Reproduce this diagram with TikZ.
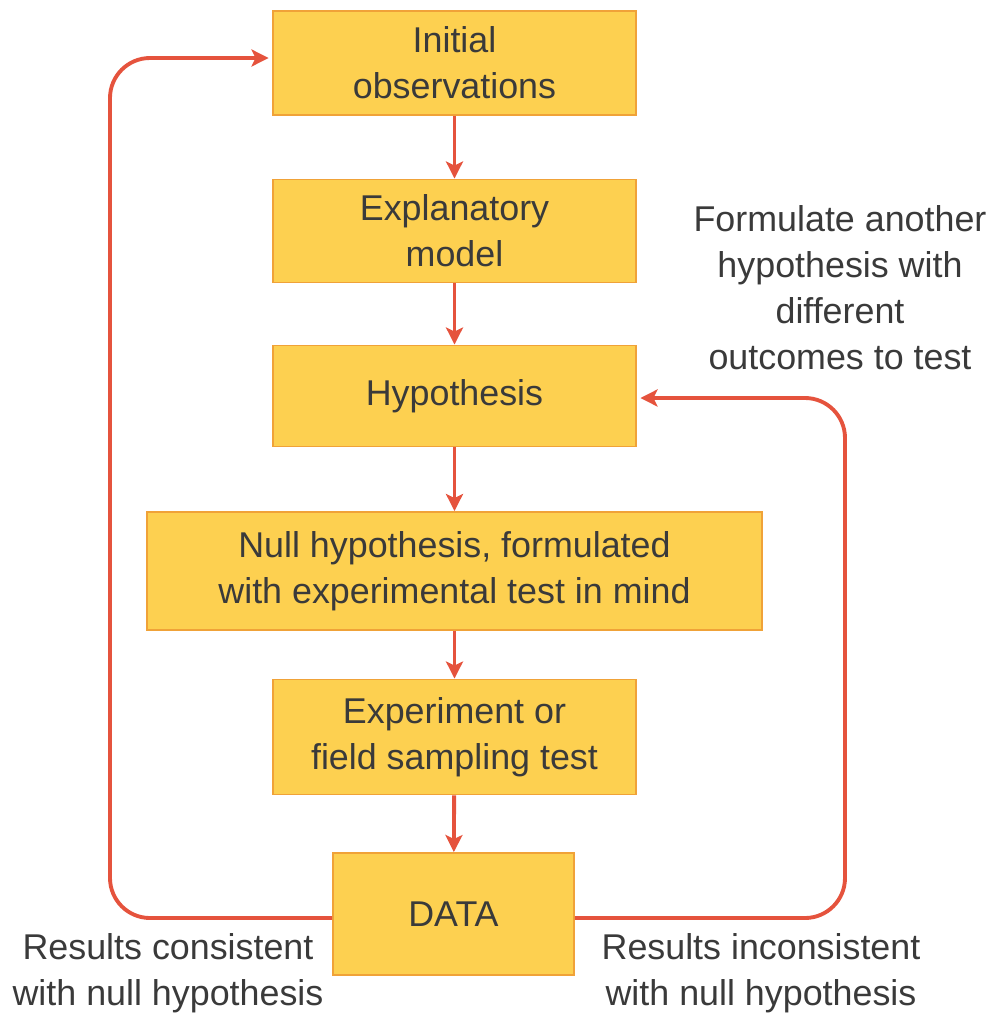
\documentclass[tikz,border=0pt]{standalone}
\usepackage{fontspec}
\setmainfont{Liberation Sans}
\usepackage{xcolor}
\usetikzlibrary{arrows.meta, positioning, calc}

\definecolor{boxfill}{HTML}{FDD050}
\definecolor{boxline}{HTML}{F0A238}
\definecolor{loopred}{HTML}{E5533D}
\definecolor{txtgray}{HTML}{3A3A3A}

\tikzset{
  stage/.style={draw=boxline, fill=boxfill, line width=1.1pt, align=center,
    text=txtgray, inner sep=0pt},
  note/.style={align=center, text=txtgray},
  flow/.style={draw=loopred, line width=2.2pt,
    -{Stealth[length=0.34cm, width=0.34cm, inset=0.08cm]}},
  loop/.style={flow, rounded corners=0.8cm}
}

\begin{document}
\begin{tikzpicture}[x=0.02cm, y=-0.02cm,
    every node/.style={font=\fontsize{20.4pt}{26.2pt}\selectfont}]
  \useasboundingbox (0,0) rectangle (996,1018);

  % Stages
  \node[stage, minimum width=7.26cm, minimum height=2.08cm] (obs) at (454.5,63) {Initial\\observations};
  \node[stage, minimum width=7.26cm, minimum height=2.06cm] (model) at (454.5,231) {Explanatory\\model};
  \node[stage, minimum width=7.26cm, minimum height=2.02cm] (hyp) at (454.5,396) {Hypothesis};
  \node[stage, minimum width=12.3cm, minimum height=2.36cm] (null) at (454.5,571) {Null hypothesis, formulated\\with experimental test in mind};
  \node[stage, minimum width=7.26cm, minimum height=2.3cm] (exper) at (454.5,737) {Experiment or\\field sampling test};
  \node[stage, minimum width=4.82cm, minimum height=2.44cm] (data) at (453.5,914) {DATA};

  % Straight arrows
  \draw[flow] (obs) -- (model);
  \draw[flow] (model) -- (hyp);
  \draw[flow] (hyp) -- (null);
  \draw[flow] (null) -- (exper);
  \draw[flow] (exper) -- (data);

  % Feedback loops
  \coordinate (lret) at (obs.west |- 0,58);
  \coordinate (rret) at (hyp.east |- 0,398);
  \draw[loop] (data.west |- 0,918) -- (110,918) -- (110,58) -- ([xshift=-2pt]lret);
  \draw[loop] (data.east |- 0,918) -- (845,918) -- (845,398) -- ([xshift=2pt]rret);

  % Labels
  \node[note] (another) at (840,288) {Formulate another\\hypothesis with\\different\\outcomes to test};
  \node[note] (consist) at (168,973) {Results consistent\\with null hypothesis};
  \node[note] (inconsist) at (761,973) {Results inconsistent\\with null hypothesis};
\end{tikzpicture}
\end{document}
